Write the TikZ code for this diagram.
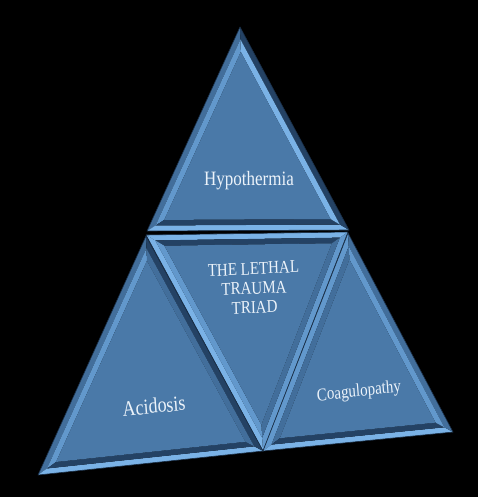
\documentclass[tikz,border=0pt]{standalone}
\usepackage{fontspec}
\setmainfont{Liberation Serif}
\usetikzlibrary{calc}

\definecolor{face}{RGB}{74,121,168}
\definecolor{hi}{RGB}{122,178,230}
\definecolor{lt}{RGB}{98,152,204}
\definecolor{md}{RGB}{66,110,155}
\definecolor{dk}{RGB}{36,66,100}
\definecolor{ink}{RGB}{236,243,250}

% prefix, inset factor, outer/inner colours of the facets on edges 1-2, 2-3, 3-1
\newcommand{\bevtri}[8]{%
	\pgfmathsetmacro{\halfk}{(1+#2)/2}
	\foreach \k in {1,2,3}{
		\coordinate (#1h\k) at ($(#1c)!\halfk!(#1\k)$);
		\coordinate (#1i\k) at ($(#1c)!#2!(#1\k)$);
	}
	\fill[#3] (#11) -- (#12) -- (#1h2) -- (#1h1) -- cycle;
	\fill[#4] (#1h1) -- (#1h2) -- (#1i2) -- (#1i1) -- cycle;
	\fill[#5] (#12) -- (#13) -- (#1h3) -- (#1h2) -- cycle;
	\fill[#6] (#1h2) -- (#1h3) -- (#1i3) -- (#1i2) -- cycle;
	\fill[#7] (#13) -- (#11) -- (#1h1) -- (#1h3) -- cycle;
	\fill[#8] (#1h3) -- (#1h1) -- (#1i1) -- (#1i3) -- cycle;
	\fill[face] (#1i1) -- (#1i2) -- (#1i3) -- cycle;
	\draw[edge] (#11) -- (#12) -- (#13) -- cycle;
}

\begin{document}
\begin{tikzpicture}[
		x=1pt, y=-1pt,
		edge/.style={draw=dk!70!black, line width=0.6pt, line join=round},
		lbl/.style={text=ink, inner sep=0pt, align=center, yscale=1.2},
		every text node part/.style={align=center}
	]

	\fill[black] (0,0) rectangle (478,497);

	% corners
	\coordinate (T1) at (240,27);
	\coordinate (T2) at (147,231);
	\coordinate (T3) at (349,230);
	\coordinate (M1) at (146,235);
	\coordinate (M2) at (348,232);
	\coordinate (M3) at (263,451);
	\coordinate (L1) at (146,236);
	\coordinate (L2) at (38,475);
	\coordinate (L3) at (263,451);
	\coordinate (R1) at (348,233);
	\coordinate (R2) at (263,451);
	\coordinate (R3) at (453,432);

	% incentres
	\coordinate (Tc) at (barycentric cs:T1=2.02,T2=2.304,T3=2.242);
	\coordinate (Mc) at (barycentric cs:M1=2.349,M2=2.457,M3=2.02);
	\coordinate (Lc) at (barycentric cs:L1=2.263,L2=2.448,L3=2.623);
	\coordinate (Rc) at (barycentric cs:R1=1.91,R2=2.25,R3=2.34);

	\bevtri{T}{0.824}{md}{lt}{hi}{dk}{dk}{hi}
	\bevtri{M}{0.829}{hi}{dk}{lt}{md}{hi}{lt}
	\bevtri{L}{0.842}{md}{lt}{hi}{dk}{dk}{md}
	\bevtri{R}{0.820}{lt}{md}{hi}{dk}{md}{lt}

	\node[lbl, font=\fontsize{17}{20}\selectfont] (hypo) at (249,181) {Hypothermia};
	\node[lbl, font=\fontsize{15}{16.2}\selectfont, rotate=2] (triad) at (254,288) {THE LETHAL\\TRAUMA\\TRIAD};
	\node[lbl, font=\fontsize{18}{20}\selectfont, rotate=5] (acid) at (154,406) {Acidosis};
	\node[lbl, font=\fontsize{15}{18}\selectfont, rotate=5.5] (coag) at (359,392) {Coagulopathy};
\end{tikzpicture}
\end{document}
